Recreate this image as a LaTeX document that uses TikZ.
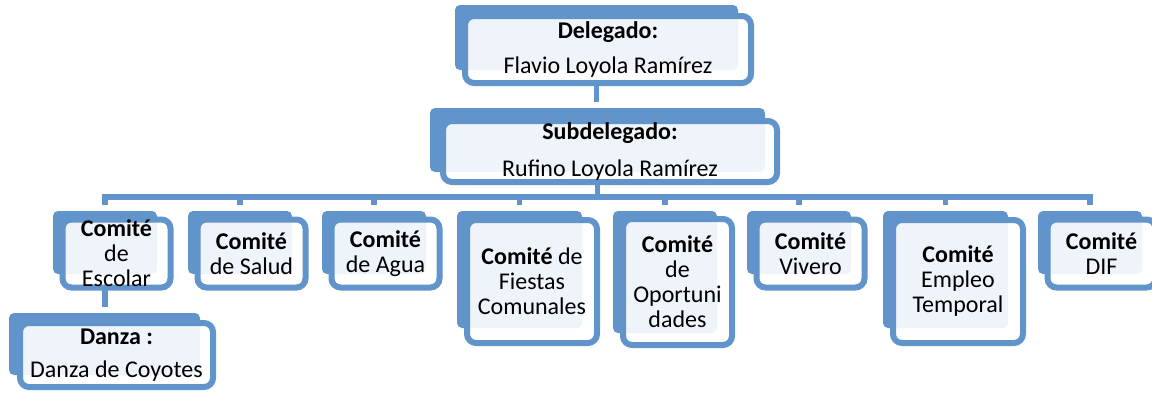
\documentclass[tikz,border=0pt]{standalone}
\usepackage{fontspec}
\setmainfont{Carlito}
\definecolor{orgblue}{RGB}{98,148,204}

\begin{document}
\begin{tikzpicture}[x=1pt, y=-1pt,
        dims/.style 2 args={minimum width=#1pt, minimum height=#2pt},
        back/.style={rectangle, rounded corners=5pt, fill=orgblue, inner sep=0pt, outer sep=0pt},
        front/.style={rectangle, rounded corners=9pt, draw=orgblue, line width=6pt, fill=white, fill opacity=0.9, inner sep=0pt, outer sep=0pt},
        txt/.style={align=center, font=\fontsize{24}{25}\selectfont, inner sep=0pt},
        link/.style={draw=orgblue, line width=5.5pt}]
        \useasboundingbox (0, 0) rectangle (1152, 392);
        \coordinate (bar) at (0, 197);

        \node[back, dims={283}{65}] (del-b) at (596.5, 37.5) {};
        \node[back, dims={335}{64}] (sub-b) at (597.5, 140) {};
        \node[back, dims={104}{63}] (esc-b) at (105, 242.5) {};
        \node[back, dims={104}{63}] (sal-b) at (240, 242.5) {};
        \node[back, dims={104}{63}] (agu-b) at (374, 242.5) {};
        \node[back, dims={125}{117}] (fie-b) at (519.5, 269.5) {};
        \node[back, dims={104}{122}] (opo-b) at (665, 272) {};
        \node[back, dims={104}{63}] (viv-b) at (799, 242.5) {};
        \node[back, dims={125}{117}] (emp-b) at (945.5, 269.5) {};
        \node[back, dims={104}{63}] (dif-b) at (1090, 242.5) {};
        \node[back, dims={191}{62}] (dan-b) at (104.5, 344) {};

        \node[front, dims={286}{67}] (del) at (608, 49.5) {};
        \node[front, dims={334}{61}] (sub) at (610, 151.5) {};
        \node[front, dims={108}{68}] (esc) at (116.5, 253.5) {};
        \node[front, dims={108}{68}] (sal) at (251.5, 253.5) {};
        \node[front, dims={108}{68}] (agu) at (385.5, 253.5) {};
        \node[front, dims={130}{123}] (fie) at (532, 281.5) {};
        \node[front, dims={109}{126}] (opo) at (677.5, 282) {};
        \node[front, dims={108}{68}] (viv) at (810.5, 253.5) {};
        \node[front, dims={130}{123}] (emp) at (958, 281.5) {};
        \node[front, dims={108}{68}] (dif) at (1101.5, 253.5) {};
        \node[front, dims={193}{64}] (dan) at (116.5, 355) {};

        \node[txt] (del-t) at (del) {\textbf{Delegado:}\\[10pt]Flavio Loyola Ramírez};
        \node[txt] (sub-t) at (sub) {\textbf{Subdelegado:}\\[12pt]Rufino Loyola Ramírez};
        \node[txt] (esc-t) at (esc) {\textbf{Comité}\\de\\Escolar};
        \node[txt] (sal-t) at (sal) {\textbf{Comité}\\de Salud};
        \node[txt] (agu-t) at (agu) {\textbf{Comité}\\de Agua};
        \node[txt] (fie-t) at (fie) {\textbf{Comité} de\\Fiestas\\Comunales};
        \node[txt] (opo-t) at (opo) {\textbf{Comité}\\de\\Oportuni\\dades};
        \node[txt] (viv-t) at (viv) {\textbf{Comité}\\Vivero};
        \node[txt] (emp-t) at (emp) {\textbf{Comité}\\Empleo\\Temporal};
        \node[txt] (dif-t) at (dif) {\textbf{Comité}\\DIF};
        \node[txt] (dan-t) at (dan) {\textbf{Danza :}\\[8pt]Danza de Coyotes};

        \draw[link, shorten >=6pt] (del-b.south |- del.south) -- (del-b.south |- sub-b.north);
        \draw[link] (sub-b.south |- sub.south) -- (sub-b.south |- bar);
        \draw[link, shorten <=6pt, shorten >=6pt] (esc-b.north) -- (esc-b.north |- bar) -- (dif-b.north |- bar) -- (dif-b.north);
        \foreach \b in {sal-b, agu-b, fie-b, opo-b, viv-b, emp-b}
            \draw[link, shorten >=6pt] (\b.north |- bar) -- (\b.north);
        \draw[link, shorten >=6pt] (esc-b.south |- esc.south) -- (esc-b.south |- dan-b.north);
\end{tikzpicture}
\end{document}
